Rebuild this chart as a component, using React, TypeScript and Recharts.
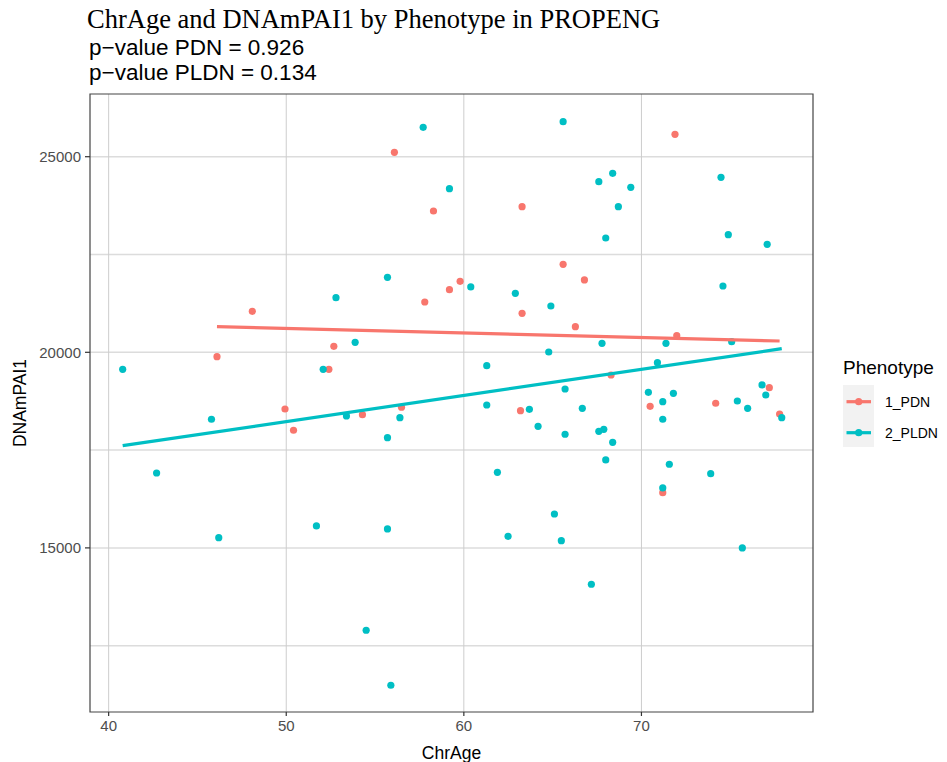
import React from "react";
import {
  ScatterChart,
  Scatter,
  XAxis,
  YAxis,
  CartesianGrid,
  ReferenceArea,
} from "recharts";

// ChrAge (x) and DNAmPAI1 (y) per phenotype
const pdnAge = [48.09, 46.1, 52.68, 52.4, 49.93, 56.09, 58.29, 63.28, 65.59, 59.79, 59.19, 57.8, 63.28, 66.28, 56.49, 63.19, 71.89, 66.79, 71.99, 68.29, 77.2, 70.49, 74.18, 77.78, 71.2, 50.41, 54.29];
const pdnPai = [21048, 19888, 20154, 19566, 18551, 25112, 23612, 23722, 22250, 21815, 21601, 21286, 20997, 20655, 18595, 18508, 25573, 21849, 20425, 19420, 19096, 18620, 18697, 18423, 16412, 18007, 18405];

const pldnAge = [40.79, 42.7, 45.79, 46.2, 51.7, 52.08, 52.8, 57.71, 59.19, 55.7, 60.39, 62.9, 64.9, 65.59, 53.88, 61.29, 64.78, 65.7, 61.29, 63.69, 67.6, 68.38, 69.4, 68.7, 67.99, 74.48, 74.89, 77.08, 74.59, 67.78, 71.38, 75.08, 70.9, 70.39, 71.2, 71.8, 76.79, 77.0, 75.4, 75.98, 66.67, 71.2, 67.6, 67.88, 68.38, 67.99, 71.57, 73.9, 71.2, 75.68, 67.18, 77.9, 53.39, 56.4, 55.7, 64.18, 65.7, 61.89, 55.7, 62.49, 65.1, 65.49, 54.5, 55.89];
const pldnPai = [19566, 16915, 18288, 15262, 15561, 19566, 21396, 25751, 24182, 21917, 21670, 21508, 21184, 25895, 20256, 19658, 20008, 19062, 18653, 18543, 24361, 24576, 24218, 23722, 22922, 24473, 23006, 22761, 21695, 20230, 20230, 20271, 19735, 18978, 18738, 18952, 19165, 18909, 18755, 18569, 18569, 18288, 17981, 18032, 17700, 17248, 17138, 16898, 16532, 14998, 14071, 18329, 18372, 18329, 17818, 18109, 17905, 16933, 15484, 15297, 15867, 15185, 12895, 11489];

// fitted line end points
const pdnFitAge = [46.1, 77.78];
const pdnFitPai = [20655, 20289];
const pldnFitAge = [40.79, 77.9];
const pldnFitPai = [17613, 20093];

const xTicks = [40, 50, 60, 70];
const yTicks = [15000, 20000, 25000];
const yGrid = [12500, 15000, 17500, 20000, 22500, 25000];
const xDomain: [number, number] = [38.95, 79.66];
const yDomain: [number, number] = [10805, 26603];

const titleText = "ChrAge and DNAmPAI1 by Phenotype in PROPENG";
const subtitle1 = "p\u2212value PDN = 0.926";
const subtitle2 = "p\u2212value PLDN = 0.134";
const legendTitle = "Phenotype";
const groupNames = ["1_PDN", "2_PLDN"];
const colors = ["#F8766D", "#00BFC4"];

const toPts = (xs: number[], ys: number[]) => xs.map((x, i) => ({ x, y: ys[i] }));
const pdnData = toPts(pdnAge, pdnPai);
const pldnData = toPts(pldnAge, pldnPai);
const pdnFit = toPts(pdnFitAge, pdnFitPai);
const pldnFit = toPts(pldnFitAge, pldnFitPai);

const SANS = "'Liberation Sans', Arial, Helvetica, sans-serif";

const dot = (color: string) => (props: any) => (
  <circle cx={props.cx} cy={props.cy} r={3.6} fill={color} />
);
const noDot = () => <g />;

export default function App() {
  return (
    <div style={{ position: "absolute", left: 0, top: 0, width: 947, height: 762, background: "#fff" }}>
      <ScatterChart
        width={947}
        height={762}
        margin={{ top: 94, right: 134, bottom: 0, left: 0 }}
      >
        <CartesianGrid
          horizontal={true}
          vertical={false}
          horizontalValues={yGrid}
          stroke="#dcdcdc"
          strokeWidth={1.5}
        />
        <CartesianGrid
          horizontal={false}
          vertical={true}
          verticalValues={xTicks}
          stroke="#cdcdcd"
          strokeWidth={1}
        />
        <XAxis
          type="number"
          dataKey="x"
          domain={xDomain}
          ticks={xTicks}
          allowDataOverflow
          height={50}
          axisLine={false}
          tickSize={4}
          tickMargin={4}
          tickLine={{ stroke: "#333", strokeWidth: 1.2 }}
          tick={{ fill: "#4d4d4d", fontSize: 15, fontFamily: SANS }}
          label={{ value: "ChrAge", position: "insideBottom", offset: 3, fill: "#000", fontSize: 17.5, fontFamily: SANS }}
        />
        <YAxis
          type="number"
          dataKey="y"
          domain={yDomain}
          ticks={yTicks}
          allowDataOverflow
          width={90}
          axisLine={false}
          tickSize={5}
          tickMargin={4}
          tickLine={{ stroke: "#333", strokeWidth: 1.2 }}
          tick={{ fill: "#4d4d4d", fontSize: 15, fontFamily: SANS }}
          label={{ value: "DNAmPAI1", angle: -90, position: "insideLeft", offset: 20, fill: "#000", fontSize: 17.5, fontFamily: SANS, style: { textAnchor: "middle" } }}
        />
        <ReferenceArea
          x1={xDomain[0]}
          x2={xDomain[1]}
          y1={yDomain[0]}
          y2={yDomain[1]}
          fill="none"
          fillOpacity={0}
          stroke="#444"
          strokeWidth={1.2}
          ifOverflow="visible"
        />
        <Scatter data={pdnData} fill={colors[0]} shape={dot(colors[0])} isAnimationActive={false} />
        <Scatter data={pldnData} fill={colors[1]} shape={dot(colors[1])} isAnimationActive={false} />
        <Scatter
          data={pdnFit}
          shape={noDot}
          line={{ stroke: colors[0], strokeWidth: 3.2 }}
          lineType="joint"
          isAnimationActive={false}
        />
        <Scatter
          data={pldnFit}
          shape={noDot}
          line={{ stroke: colors[1], strokeWidth: 3.2 }}
          lineType="joint"
          isAnimationActive={false}
        />
      </ScatterChart>
      <svg
        width={947}
        height={762}
        style={{ position: "absolute", left: 0, top: 0, pointerEvents: "none" }}
      >
        <text x={87} y={27.5} fontFamily="'Liberation Serif', 'Times New Roman', serif" fontSize={26.5} fill="#000">
          {titleText}
        </text>
        <text x={89} y={54.5} fontFamily={SANS} fontSize={22.5} fill="#000">
          {subtitle1}
        </text>
        <text x={89} y={80} fontFamily={SANS} fontSize={22.5} fill="#000">
          {subtitle2}
        </text>
        <text x={843} y={374} fontFamily={SANS} fontSize={19} fill="#000">
          {legendTitle}
        </text>
        <rect x={843} y={385} width={31} height={62} fill="#f2f2f2" />
        {groupNames.map((g, i) => {
          const cy = 401.7 + i * 31;
          return (
            <g key={g}>
              <line x1={846.5} x2={871} y1={cy} y2={cy} stroke={colors[i]} strokeWidth={3.2} />
              <circle cx={858.7} cy={cy} r={3.6} fill={colors[i]} />
              <text x={885} y={cy + 5} fontFamily={SANS} fontSize={14} fill="#000">
                {g}
              </text>
            </g>
          );
        })}
      </svg>
    </div>
  );
}
